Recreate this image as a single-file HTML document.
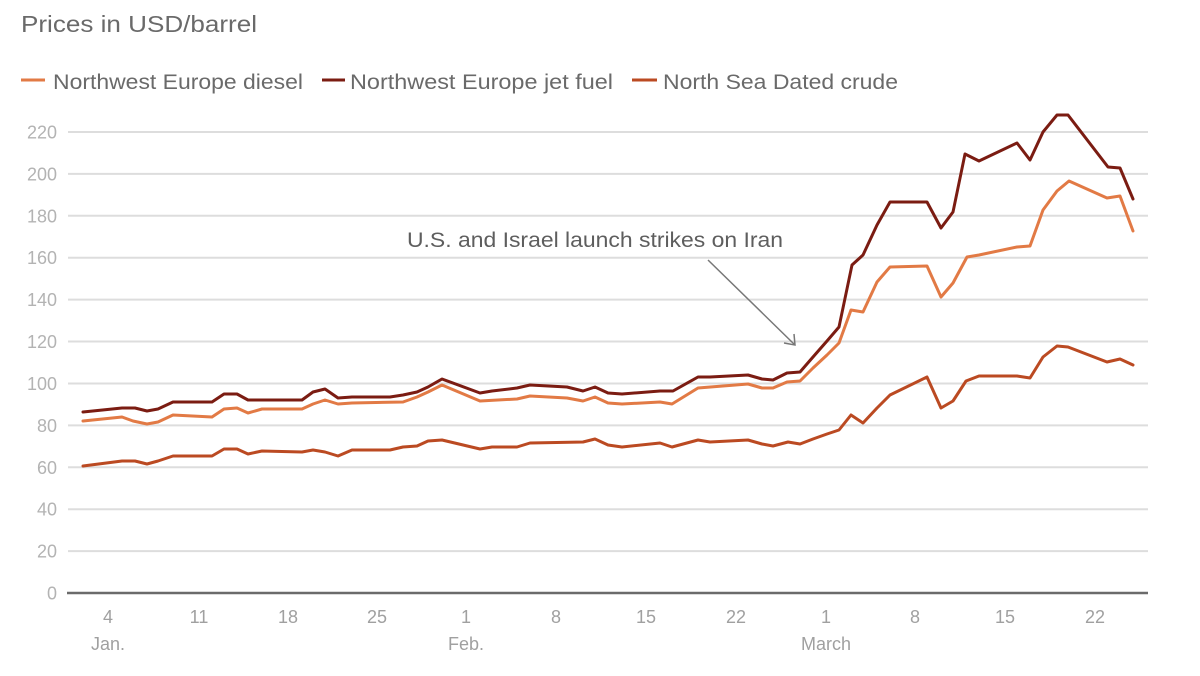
<!DOCTYPE html>
<html>
<head>
<meta charset="utf-8">
<style>
  html, body { margin:0; padding:0; background:#ffffff; }
  body { width:1200px; height:676px; overflow:hidden; }
  svg { display:block; }
  text { font-family: "Liberation Sans", "DejaVu Sans", sans-serif; }
</style>
</head>
<body>
<svg width="1200" height="676" viewBox="0 0 1200 676" xmlns="http://www.w3.org/2000/svg">
  <rect x="0" y="0" width="1200" height="676" fill="#ffffff"/>

  <!-- Title -->
  <text x="21" y="32" font-size="23" fill="#6a6a6a" textLength="236" lengthAdjust="spacingAndGlyphs">Prices in USD/barrel</text>

  <!-- Legend -->
  <line x1="21" y1="80" x2="45" y2="80" stroke="#e27a45" stroke-width="3"/>
  <text x="53" y="89" font-size="21" fill="#6a6a6a" textLength="250" lengthAdjust="spacingAndGlyphs">Northwest Europe diesel</text>
  <line x1="322" y1="80" x2="345" y2="80" stroke="#7b1c12" stroke-width="3"/>
  <text x="350" y="89" font-size="21" fill="#6a6a6a" textLength="263" lengthAdjust="spacingAndGlyphs">Northwest Europe jet fuel</text>
  <line x1="632" y1="80" x2="657" y2="80" stroke="#bb4a22" stroke-width="3"/>
  <text x="663" y="89" font-size="21" fill="#6a6a6a" textLength="235" lengthAdjust="spacingAndGlyphs">North Sea Dated crude</text>

  <!-- Gridlines -->
  <g stroke="#dddddd" stroke-width="2">
    <line x1="68" y1="132" x2="1148" y2="132"/>
    <line x1="68" y1="173.9" x2="1148" y2="173.9"/>
    <line x1="68" y1="215.8" x2="1148" y2="215.8"/>
    <line x1="68" y1="257.7" x2="1148" y2="257.7"/>
    <line x1="68" y1="299.6" x2="1148" y2="299.6"/>
    <line x1="68" y1="341.5" x2="1148" y2="341.5"/>
    <line x1="68" y1="383.5" x2="1148" y2="383.5"/>
    <line x1="68" y1="425.4" x2="1148" y2="425.4"/>
    <line x1="68" y1="467.3" x2="1148" y2="467.3"/>
    <line x1="68" y1="509.2" x2="1148" y2="509.2"/>
    <line x1="68" y1="551.1" x2="1148" y2="551.1"/>
  </g>

  <!-- Y labels -->
  <g font-size="18" fill="#b3b3b3" text-anchor="end">
    <text x="57" y="138.5">220</text>
    <text x="57" y="180.4">200</text>
    <text x="57" y="222.3">180</text>
    <text x="57" y="264.2">160</text>
    <text x="57" y="306.1">140</text>
    <text x="57" y="348">120</text>
    <text x="57" y="390">100</text>
    <text x="57" y="431.9">80</text>
    <text x="57" y="473.8">60</text>
    <text x="57" y="515.7">40</text>
    <text x="57" y="557.6">20</text>
    <text x="57" y="599.5">0</text>
  </g>

  <!-- Axis line -->
  <line x1="67" y1="593" x2="1148" y2="593" stroke="#6b6b6b" stroke-width="2.5"/>

  <!-- X labels -->
  <g font-size="18" fill="#a0a0a0" text-anchor="middle">
    <text x="108" y="623">4</text>
    <text x="199" y="623">11</text>
    <text x="288" y="623">18</text>
    <text x="377" y="623">25</text>
    <text x="466" y="623">1</text>
    <text x="556" y="623">8</text>
    <text x="646" y="623">15</text>
    <text x="736" y="623">22</text>
    <text x="826" y="623">1</text>
    <text x="915" y="623">8</text>
    <text x="1005" y="623">15</text>
    <text x="1095" y="623">22</text>
    <text x="108" y="650">Jan.</text>
    <text x="466" y="650">Feb.</text>
    <text x="826" y="650">March</text>
  </g>

  <!-- Series: North Sea Dated crude -->
  <polyline fill="none" stroke="#bb4a22" stroke-width="3" stroke-linejoin="round" stroke-linecap="round"
    points="83,466 122,461 135,461 147,464 158,461 173,456 212,456 224,449 237,449 248,454 262,451 302,452 313,450 325,452 338,456 352,450 390,450 403,447 417,446 428,441 442,440 480,449 492,447 517,447 530,443 583,442 595,439 608,445 622,447 660,443 672,447 698,440 710,442 748,440 762,444 773,446 788,442 800,444 813,439 827,434 839,430 851,415 863,423 877,408 890,395 927,377 941,408 953,401 966,381 979,376 1017,376 1030,378 1043,357 1057,346 1068,347 1107,362 1120,359 1133,365"/>

  <!-- Series: Northwest Europe diesel -->
  <polyline fill="none" stroke="#e27a45" stroke-width="3" stroke-linejoin="round" stroke-linecap="round"
    points="83,421 122,417 133,421 147,424 158,422 173,415 212,417 224,409 237,408 248,413 262,409 302,409 313,404 325,400 338,404 352,403 403,402 417,397 428,392 442,385 480,401 517,399 530,396 567,398 583,401 595,397 608,403 622,404 660,402 672,404 698,388 748,384 762,388 773,388 787,382 800,381 813,368 827,355 839,343 851,310 863,312 877,282 890,267 927,266 941,297 953,283 967,257 979,255 1017,247 1030,246 1043,210 1057,191 1069,181 1107,198 1120,196 1133,231"/>

  <!-- Series: Northwest Europe jet fuel -->
  <polyline fill="none" stroke="#7b1c12" stroke-width="3" stroke-linejoin="round" stroke-linecap="round"
    points="83,412 122,408 135,408 147,411 158,409 173,402 212,402 224,394 237,394 248,400 302,400 313,392 325,389 338,398 352,397 390,397 403,395 417,392 428,387 442,379 480,393 492,391 517,388 530,385 567,387 583,391 595,387 608,393 622,394 660,391 673,391 698,377 710,377 748,375 762,379 773,380 787,373 800,372 813,357 827,341 839,327 852,265 863,255 877,225 890,202 927,202 941,228 953,212 965,154 979,161 1017,143 1030,160 1043,132 1057,115 1068,115 1108,167 1120,168 1133,199"/>

  <!-- Annotation -->
  <text x="407" y="247" font-size="21" fill="#5e5e5e" textLength="376" lengthAdjust="spacingAndGlyphs">U.S. and Israel launch strikes on Iran</text>
  <line x1="708" y1="260" x2="795" y2="345" stroke="#777777" stroke-width="1.5"/>
  <polyline points="784,343 795,345 794,334" fill="none" stroke="#777777" stroke-width="1.5"/>
</svg>
</body>
</html>
